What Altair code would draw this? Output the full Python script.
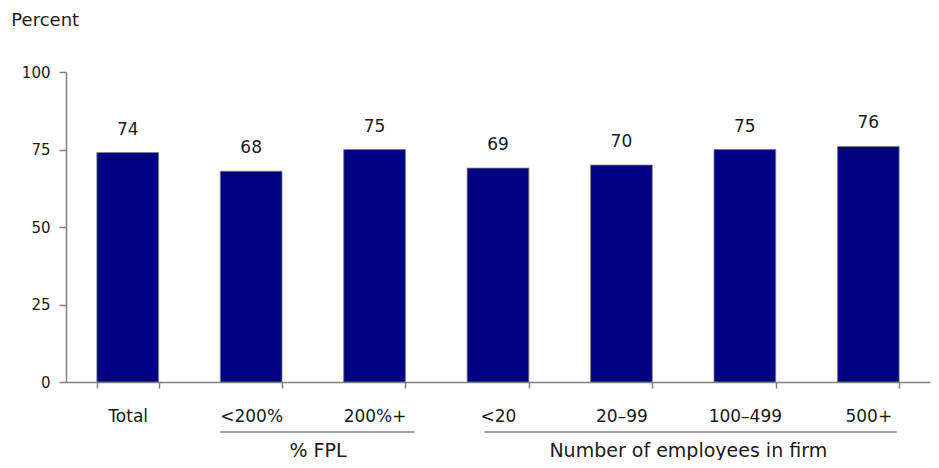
import altair as alt
import pandas as pd

categories = ["Total", "<200%", "200%+", "<20", "20–99", "100–499", "500+"]
values = [74, 68, 75, 69, 70, 75, 76]
y_ticks = [0, 25, 50, 75, 100]

group_names = ["% FPL", "Number of employees in firm"]
group_start = ["<200%", "<20"]
group_end = ["200%+", "500+"]
group_before_center = ["<200%", "20–99"]

FONT = "DejaVu Sans"
TXT = "#1a1a1a"
W, H = 864, 310

df = pd.DataFrame({"cat": categories, "val": values})
xscale = alt.Scale(domain=categories, paddingInner=0.5, paddingOuter=0.25)

bars = alt.Chart(df).mark_bar(color="#000080", stroke="#7f7f7f", strokeWidth=0.8).encode(
    x=alt.X("cat:N", scale=xscale, sort=categories, title=None),
    y=alt.Y("val:Q", scale=alt.Scale(domain=[0, 100]), title=None,
            axis=alt.Axis(values=y_ticks, grid=False, domainColor="#808080",
                          tickColor="#808080", domainWidth=1.5, tickWidth=1.5, tickSize=7,
                          labelPadding=9, labelFontSize=15, labelFont=FONT, labelColor=TXT)),
)

labels = alt.Chart(df).mark_text(baseline="alphabetic", dy=-18, fontSize=17, font=FONT, color=TXT).encode(
    x=alt.X("cat:N", scale=xscale, sort=categories, title=None),
    y=alt.Y("val:Q", title=None),
    text=alt.Text("val:Q"),
)

layers = [bars, labels]

# group underline rules
band_starts = [0.0, 0.28]
band_ends = [1.0, 0.96]
end_offsets = [9, 0]
for i in range(len(group_names)):
    gdf = pd.DataFrame({"s": [group_start[i]], "e": [group_end[i]]})
    layers.append(
        alt.Chart(gdf).mark_rule(color="#808080", strokeWidth=1.5, x2Offset=end_offsets[i]).encode(
            x=alt.X("s:N", scale=xscale, title=None, bandPosition=band_starts[i]),
            x2=alt.X2("e", bandPosition=band_ends[i]),
            y=alt.value(H + 50),
        )
    )

gdf = pd.DataFrame({"name": group_names, "c": group_before_center})
layers.append(
    alt.Chart(gdf).mark_text(baseline="middle", fontSize=19, font=FONT, color=TXT, dx=36).encode(
        x=alt.X("c:N", scale=xscale, title=None, bandPosition=1),
        y=alt.value(H + 69),
        text="name:N",
    )
)

chart = alt.layer(*layers).properties(
    width=W, height=H,
    autosize=alt.AutoSizeParams(type="none"),
    padding={"left": 58, "top": 64, "right": 1, "bottom": 78},
    title=alt.TitleParams("Percent", anchor="start", fontSize=18, font=FONT, fontWeight="normal",
                          color=TXT, offset=35, dx=-10),
).configure_view(stroke=None).configure_axisX(
    labelAngle=0, tickBand="extent", domainColor="#808080", tickColor="#808080",
    domainWidth=1.5, tickWidth=1.5, tickSize=6, labelPadding=20, labelFontSize=17,
    labelFont=FONT, labelColor=TXT, grid=False,
)

chart.save("out.html", embed_options={"renderer": "svg", "actions": False})
